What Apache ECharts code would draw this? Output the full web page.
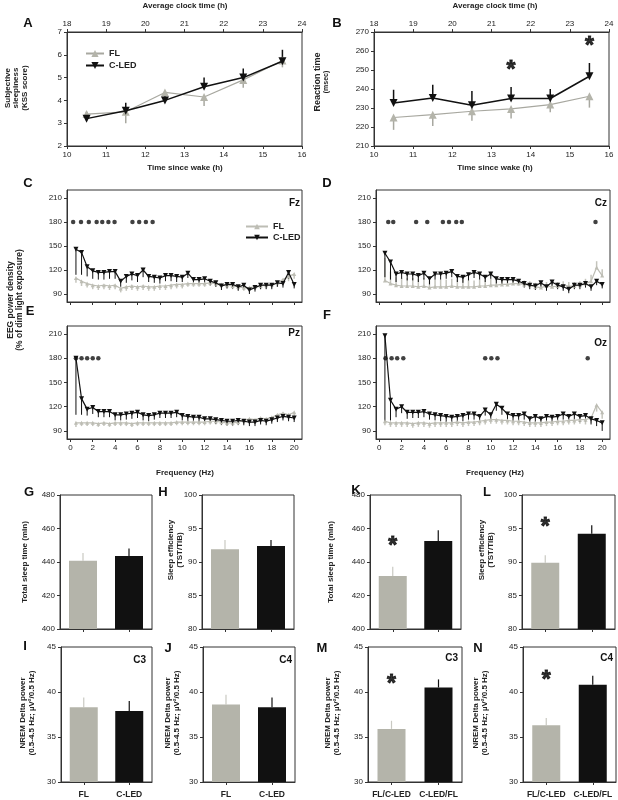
<!DOCTYPE html>
<html><head><meta charset="utf-8">
<script src="https://cdn.jsdelivr.net/npm/echarts@6/dist/echarts.min.js"></script>
<style>html,body{margin:0;padding:0;background:#fff}#c{width:618px;height:800px}</style>
</head><body><div id="c"></div>
<script>
// ---------- DATA ----------
// Panels A/B: time since wake (h), top axis = clock time
const timeWake = [10.5, 11.5, 12.5, 13.5, 14.5, 15.5];
const clockTicks = [18, 24];
const kssFL = [3.4, 3.5, 4.35, 4.15, 4.9, 5.75];
const kssFLErr = [0.3, 0.5, 0.3, 0.4, 0.35, 0.3];
const kssLED = [3.2, 3.55, 4.0, 4.6, 5.0, 5.72];
const kssLEDErr = [0.3, 0.35, 0.25, 0.4, 0.4, 0.5];
const rtFL = [225, 226.5, 228.3, 229.5, 231.8, 236.2];
const rtFLErr = [6.5, 6, 5, 5, 4, 6];
const rtLED = [232.6, 235.3, 231.4, 235, 235, 246.7];
const rtLEDErr = [7, 7, 7.5, 6, 5, 7];
const rtStars = [[13.5, 252.5], [15.5, 265]];

// Panels C-F: EEG power density (% of dim light), by frequency (Hz)
const freqHz = [0.5,1,1.5,2,2.5,3,3.5,4,4.5,5,5.5,6,6.5,7,7.5,8,8.5,9,9.5,10,10.5,11,11.5,12,12.5,13,13.5,14,14.5,15,15.5,16,16.5,17,17.5,18,18.5,19,19.5,20];
const freqTicks = [0,2,4,6,8,10,12,14,16,18,20];
const eegTicks = [90,120,150,180,210];
const sigLevel = 180;

const fzLED = [146,142,124,119,117,117,118,118,106,112,115,113,120,112,111,110,113,113,112,111,116,108,108,109,106,104,100,102,102,99,101,95,98,101,101,101,104,103,117,102];
const fzLEDErr = [32,28,12,10,9,9,9,9,7,8,8,8,9,7,7,7,7,7,7,6,6,6,6,6,5,5,5,5,5,5,5,5,5,5,5,5,5,5,8,5];
const fzFL = [110,106,103,101,100,101,100,101,97,99,100,99,100,99,99,100,100,101,102,102,103,103,103,103,104,103,102,101,100,99,98,98,99,100,101,102,104,108,112,115];
const fzFLErr = [6,6,5,5,5,5,5,5,5,5,5,5,5,5,5,5,5,5,5,5,4,4,4,4,4,4,4,4,4,4,4,4,4,4,4,4,5,5,6,6];
const fzSig = [0.25,0.95,1.65,2.35,2.85,3.4,3.95,5.55,6.15,6.75,7.35];

const czLED = [141,130,115,117,115,115,113,116,109,115,115,116,118,112,111,114,117,115,111,115,109,108,108,108,106,103,101,100,104,99,105,101,99,96,101,101,103,99,106,102];
const czLEDErr = [30,22,10,8,8,8,8,8,7,7,7,7,7,7,7,7,7,7,6,6,6,6,6,5,5,5,5,5,5,5,5,5,5,5,5,5,5,5,5,5];
const czFL = [107,103,101,100,100,100,99,100,98,99,99,99,100,99,99,99,99,100,100,101,101,102,102,103,103,102,101,99,98,100,99,100,101,100,100,101,103,106,123,113];
const czFLErr = [28,15,10,10,10,10,10,10,9,9,9,9,9,9,9,9,8,8,8,8,6,6,6,6,6,5,5,5,5,5,5,5,5,5,5,5,6,8,8,8];
const czSig = [0.8,1.25,3.3,4.3,5.7,6.25,6.9,7.4,19.4];

const pzLED = [180,130,117,119,114,114,114,110,110,111,112,113,110,109,110,112,112,112,113,109,108,107,107,105,105,104,103,102,102,103,102,101,101,103,102,104,106,108,107,106];
const pzLEDErr = [70,20,8,8,7,7,7,7,7,7,7,7,7,7,6,6,6,6,6,6,6,6,6,5,5,5,5,5,5,5,5,5,5,5,5,5,5,5,5,5];
const pzFL = [100,100,100,100,99,100,99,100,100,100,99,100,100,100,100,100,100,100,101,101,101,101,101,101,102,102,101,100,100,101,103,105,104,106,105,107,110,112,110,113];
const pzFLErr = [5,4,4,4,4,4,4,4,4,4,4,4,4,4,4,4,4,4,4,4,4,4,4,4,4,4,4,4,4,4,4,5,5,5,5,5,6,6,6,6];
const pzSig = [0.5,1.0,1.5,2.0,2.5];

const ozLED = [208,128,117,120,113,113,113,114,111,110,109,108,107,108,109,111,111,108,116,110,123,118,111,109,109,111,105,108,105,108,107,108,111,108,111,108,109,105,103,100];
const ozLEDErr = [108,25,10,8,8,7,7,7,7,7,7,7,7,7,7,7,7,7,7,7,8,8,7,7,7,7,7,7,7,7,7,7,7,7,7,7,7,7,7,10];
const ozFL = [102,100,100,100,100,99,100,100,99,100,100,100,100,101,100,101,101,102,103,104,104,103,103,102,102,101,100,100,100,101,101,102,102,103,103,104,104,106,122,113];
const ozFLErr = [5,5,5,5,5,5,5,5,5,5,5,5,5,5,5,5,5,5,5,5,5,5,5,5,5,5,5,5,5,5,5,5,5,5,5,5,6,6,8,8];
const ozSig = [0.55,1.1,1.6,2.15,9.5,10.05,10.6,18.7];

// Panels G-N: bar charts
const catsGroup = ['FL', 'C-LED'];
const catsOrder = ['FL/C-LED', 'C-LED/FL'];
const tstGroup = [440.8, 443.6];      const tstGroupErr = [4.6, 4.4];
const seGroup = [91.9, 92.4];         const seGroupErr = [1.4, 0.9];
const tstOrder = [431.6, 452.5];      const tstOrderErr = [5.6, 6.5];
const seOrder = [89.9, 94.2];         const seOrderErr = [1.1, 1.3];
const deltaC3Group = [38.3, 37.9];    const deltaC3GroupErr = [1.1, 1.1];
const deltaC4Group = [38.6, 38.3];    const deltaC4GroupErr = [1.1, 1.1];
const deltaC3Order = [35.9, 40.5];    const deltaC3OrderErr = [0.9, 0.9];
const deltaC4Order = [36.3, 40.8];    const deltaC4OrderErr = [0.8, 1.0];
const starTstOrder = 452;
const starSeOrder = 95.8;
const starC3Order = 41.4;
const starC4Order = 41.8;

// ---------- BUILD ----------
const FONT = '"Liberation Sans", Arial, Helvetica, sans-serif';
const GRAY = '#b4b4aa';
const GRAYLINE = '#a8a8a0';
const BLACK = '#111111';
const AXC = '#333333';
const grids = [], xAxes = [], yAxes = [], series = [], graphics = [];

function addGrid(l, t, w, h) {
  grids.push({left: l, top: t, width: w, height: h, show: true, borderColor: AXC, borderWidth: 1, backgroundColor: 'rgba(0,0,0,0)'});
  return grids.length - 1;
}
function axis(opts, label, tick) {
  const a = Object.assign({
    axisLine: {show: true, onZero: false, lineStyle: {color: AXC, width: 1}},
    splitLine: {show: false}
  }, opts);
  a.axisTick = Object.assign({show: true, length: 3, inside: false, lineStyle: {color: AXC}}, tick || {});
  a.axisLabel = Object.assign({fontSize: 8, color: '#222', fontFamily: FONT, margin: 4}, label || {});
  return a;
}
function addX(o, l, t) { xAxes.push(axis(o, l, t)); return xAxes.length - 1; }
function addY(o, l, t) { yAxes.push(axis(o, l, t)); return yAxes.length - 1; }

function errSeries(xi, yi, pts, color, width) {
  return {
    type: 'custom', xAxisIndex: xi, yAxisIndex: yi, silent: true, z: 2,
    data: pts, encode: {x: 0, y: 1},
    renderItem: function (p, api) {
      const a = api.coord([api.value(0), api.value(1)]);
      const b = api.coord([api.value(0), api.value(1) + api.value(2)]);
      return {type: 'line', shape: {x1: a[0], y1: a[1], x2: b[0], y2: b[1]}, style: {stroke: color, lineWidth: width}};
    }
  };
}
function starSeries(xi, yi, pts) {
  return {type: 'scatter', xAxisIndex: xi, yAxisIndex: yi, data: pts, symbol: 'circle', symbolSize: 1,
    itemStyle: {color: 'rgba(255,255,255,0)'}, silent: true, z: 6,
    label: {show: true, formatter: '*', position: 'inside', fontSize: 23, fontWeight: 'bold', color: '#000',
      textBorderColor: '#000', textBorderWidth: 0.9, fontFamily: FONT, offset: [0, 5]}};
}
function text(str, x, y, o) {
  graphics.push(Object.assign({type: 'text', x: x, y: y, silent: true,
    style: Object.assign({text: str, fontFamily: FONT, fontSize: 8, fill: '#222', align: 'center', verticalAlign: 'middle'}, (o && o.style) || {})},
    o && o.rotation !== undefined ? {rotation: o.rotation} : {}));
}
const R90 = Math.PI / 2;

// ----- A and B -----
function lineTimePanel(l, t, w, h, ymin, ymax, yint, fl, flErr, led, ledErr, stars) {
  const g = addGrid(l, t, w, h);
  const xi = addX({gridIndex: g, type: 'value', min: 10, max: 16, interval: 1, position: 'bottom'}, {margin: 5});
  addX({gridIndex: g, type: 'value', min: clockTicks[0], max: clockTicks[1], interval: 1, position: 'top'}, {margin: 4});
  const yi = addY({gridIndex: g, type: 'value', min: ymin, max: ymax, interval: yint}, {margin: 5});
  series.push(errSeries(xi, yi, timeWake.map((x, i) => [x, fl[i], -flErr[i]]), GRAYLINE, 1.5));
  series.push(errSeries(xi, yi, timeWake.map((x, i) => [x, led[i], ledErr[i]]), BLACK, 1.5));
  series.push({type: 'line', name: 'FL', xAxisIndex: xi, yAxisIndex: yi, data: timeWake.map((x, i) => [x, fl[i]]),
    symbol: 'triangle', symbolSize: 8, color: GRAY, itemStyle: {color: GRAY}, lineStyle: {color: GRAYLINE, width: 1.2}, z: 3, silent: true, animation: false});
  series.push({type: 'line', name: 'C-LED', xAxisIndex: xi, yAxisIndex: yi, data: timeWake.map((x, i) => [x, led[i]]),
    symbol: 'triangle', symbolRotate: 180, symbolSize: 8, color: BLACK, itemStyle: {color: BLACK}, lineStyle: {color: BLACK, width: 1.5}, z: 4, silent: true, animation: false});
  if (stars) series.push(starSeries(xi, yi, stars));
}
lineTimePanel(67, 32, 235, 114, 2, 7, 1, kssFL, kssFLErr, kssLED, kssLEDErr, null);
lineTimePanel(374, 32, 235, 114, 210, 270, 10, rtFL, rtFLErr, rtLED, rtLEDErr, rtStars);

// ----- C - F -----
function eegPanel(l, t, w, h, led, ledErr, ledDir, fl, flErr, flDir, sig, showX) {
  const g = addGrid(l, t, w, h);
  const xi = addX({gridIndex: g, type: 'value', min: -0.3, max: 20.7},
    {show: showX, customValues: freqTicks, margin: 5}, {customValues: freqTicks});
  const yi = addY({gridIndex: g, type: 'value', min: 80, max: 220},
    {customValues: eegTicks, margin: 5}, {customValues: eegTicks});
  series.push(errSeries(xi, yi, freqHz.map((x, i) => [x, fl[i], flDir * flErr[i]]), '#c4c4bc', 1.5));
  series.push(errSeries(xi, yi, freqHz.map((x, i) => [x, led[i], ledDir * ledErr[i]]), BLACK, 1));
  series.push({type: 'line', name: 'FL ', xAxisIndex: xi, yAxisIndex: yi, data: freqHz.map((x, i) => [x, fl[i]]),
    symbol: 'triangle', symbolSize: 4, color: GRAY, itemStyle: {color: '#bdbdb4'}, lineStyle: {color: '#bdbdb4', width: 1.2}, z: 3, silent: true, animation: false});
  series.push({type: 'line', name: 'C-LED ', xAxisIndex: xi, yAxisIndex: yi, data: freqHz.map((x, i) => [x, led[i]]),
    symbol: 'triangle', symbolRotate: 180, symbolSize: 5, color: BLACK, itemStyle: {color: BLACK}, lineStyle: {color: BLACK, width: 1.2}, z: 4, silent: true, animation: false});
  series.push({type: 'scatter', xAxisIndex: xi, yAxisIndex: yi, data: sig.map(f => [f, sigLevel]),
    symbol: 'circle', symbolSize: 4.5, itemStyle: {color: BLACK}, z: 5, silent: true, animation: false});
}
eegPanel(67, 190, 235, 112, fzLED, fzLEDErr, -1, fzFL, fzFLErr, -1, fzSig, false);
eegPanel(376, 190, 234, 112, czLED, czLEDErr, -1, czFL, czFLErr, 1, czSig, false);
eegPanel(67, 326, 235, 113, pzLED, pzLEDErr, -1, pzFL, pzFLErr, -1, pzSig, true);
eegPanel(376, 326, 234, 113, ozLED, ozLEDErr, -1, ozFL, ozFLErr, -1, ozSig, true);

// ----- G - N -----
function barPanel(l, t, w, h, cats, vals, errs, ymin, ymax, yint, showX, star) {
  const g = addGrid(l, t, w, h);
  const xi = addX({gridIndex: g, type: 'category', data: cats, boundaryGap: true},
    {show: showX, fontSize: 8.5, fontWeight: 'bold', margin: 8, interval: 0}, {alignWithLabel: true});
  const yi = addY({gridIndex: g, type: 'value', min: ymin, max: ymax, interval: yint}, {margin: 5});
  series.push({type: 'bar', xAxisIndex: xi, yAxisIndex: yi, data: vals, barWidth: 28, silent: true, animation: false, z: 2,
    itemStyle: {color: p => p.dataIndex === 0 ? GRAY : BLACK}});
  series.push(errSeries(xi, yi, vals.map((v, i) => [i, v, errs[i]]), BLACK, 1.2));
  series[series.length - 1].renderItem = function (p, api) {
    const a = api.coord([api.value(0), api.value(1)]);
    const b = api.coord([api.value(0), api.value(1) + api.value(2)]);
    return {type: 'line', shape: {x1: a[0], y1: a[1], x2: b[0], y2: b[1]}, style: {stroke: p.dataIndex === 0 ? '#c9c9c2' : BLACK, lineWidth: 1.2}};
  };
  if (star !== null) series.push(starSeries(xi, yi, [[0, star]]));
}
barPanel(60, 495, 92, 134, catsGroup, tstGroup, tstGroupErr, 400, 480, 20, false, null);
barPanel(202, 495, 92, 134, catsGroup, seGroup, seGroupErr, 80, 100, 5, false, null);
barPanel(370, 495, 91, 134, catsOrder, tstOrder, tstOrderErr, 400, 480, 20, false, starTstOrder);
barPanel(522, 495, 93, 134, catsOrder, seOrder, seOrderErr, 80, 100, 5, false, starSeOrder);
barPanel(61, 647, 91, 135, catsGroup, deltaC3Group, deltaC3GroupErr, 30, 45, 5, true, null);
barPanel(203, 647, 92, 135, catsGroup, deltaC4Group, deltaC4GroupErr, 30, 45, 5, true, null);
barPanel(368, 647, 94, 135, catsOrder, deltaC3Order, deltaC3OrderErr, 30, 45, 5, true, starC3Order);
barPanel(523, 647, 93, 135, catsOrder, deltaC4Order, deltaC4OrderErr, 30, 45, 5, true, starC4Order);

// ----- texts -----
const L = {style: {fontSize: 13, fontWeight: 'bold', fill: '#111'}};
[['A', 28, 23], ['B', 337, 23], ['C', 28, 183], ['D', 327, 183], ['E', 30, 311], ['F', 327, 315],
 ['G', 29, 492], ['H', 163, 492], ['K', 356, 490], ['L', 487, 492], ['I', 25, 646], ['J', 168, 648], ['M', 322, 648], ['N', 478, 648]]
  .forEach(d => text(d[0], d[1], d[2], L));
const AX = {style: {fontSize: 8, fontWeight: 'bold'}};
text('Average clock time (h)', 185, 6, AX); text('Average clock time (h)', 495, 6, AX);
text('Time since wake (h)', 185, 168, AX); text('Time since wake (h)', 495, 168, AX);
text('Frequency (Hz)', 185, 473, AX); text('Frequency (Hz)', 495, 473, AX);
text('Subjective\nsleepiness\n(KSS score)', 16, 88, {rotation: R90, style: {fontSize: 8, fontWeight: 'bold', lineHeight: 8.5}});
text('Reaction time', 318, 82, {rotation: R90, style: {fontSize: 9, fontWeight: 'bold'}});
text('(msec)', 326, 82, {rotation: R90, style: {fontSize: 7, fontWeight: 'bold'}});
text('EEG power density\n(% of dim light exposure)', 15, 300, {rotation: R90, style: {fontSize: 8.5, fontWeight: 'bold', lineHeight: 9}});
const YL = {rotation: R90, style: {fontSize: 8, fontWeight: 'bold', lineHeight: 9}};
text('Total sleep time (min)', 25, 562, YL); text('Total sleep time (min)', 331, 562, YL);
text('Sleep efficiency\n(TST/TIB)', 175, 550, YL); text('Sleep efficiency\n(TST/TIB)', 486, 550, YL);
const DL = '(0.5-4.5 Hz; \u00b5V\u00b2/0.5 Hz)';
text('NREM Delta power\n' + DL, 27, 713, YL); text('NREM Delta power\n' + DL, 172, 713, YL);
text('NREM Delta power\n' + DL, 332, 713, YL); text('NREM Delta power\n' + DL, 480, 713, YL);
const EL = {style: {fontSize: 10, fontWeight: 'bold', align: 'right', fill: '#111'}};
text('Fz', 300, 203, EL); text('Cz', 607, 203, EL); text('Pz', 300, 333, EL); text('Oz', 607, 343, EL);
text('C3', 146, 660, EL); text('C4', 292, 660, EL); text('C3', 458, 658, EL); text('C4', 613, 658, EL);

const LG = {fontSize: 9, fontWeight: 'bold', fontFamily: FONT, color: '#222'};
const option = {
  animation: false,
  backgroundColor: '#fff',
  grid: grids, xAxis: xAxes, yAxis: yAxes, series: series,
  legend: [
    {data: ['FL', 'C-LED'], orient: 'vertical', left: 80, top: 44, itemGap: 3, itemWidth: 18, itemHeight: 9, textStyle: LG, selectedMode: false},
    {data: ['FL ', 'C-LED '], orient: 'vertical', left: 240, top: 217, itemGap: 2, itemWidth: 22, itemHeight: 7, textStyle: LG, selectedMode: false, formatter: n => n.trim()}
  ],
  graphic: graphics
};
const chart = echarts.init(document.getElementById('c'), null, {renderer: 'canvas'});
chart.setOption(option);
</script></body></html>
